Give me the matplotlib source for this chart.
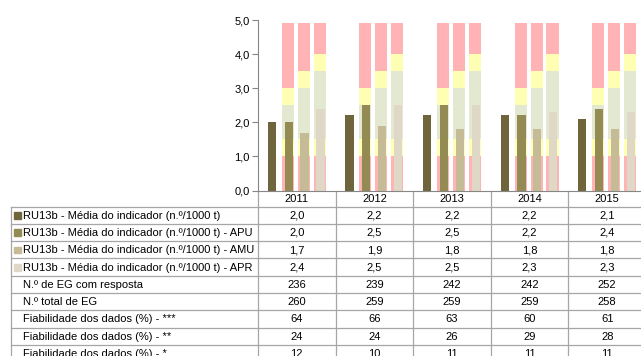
import matplotlib
matplotlib.use('Agg')
import numpy as np
import matplotlib.pyplot as plt
from matplotlib.patches import Rectangle

plt.rcParams['font.family'] = ['Liberation Sans', 'DejaVu Sans']

# dados
anos = ['2011', '2012', '2013', '2014', '2015']
media = [2.0, 2.2, 2.2, 2.2, 2.1]
media_apu = [2.0, 2.5, 2.5, 2.2, 2.4]
media_amu = [1.7, 1.9, 1.8, 1.8, 1.8]
media_apr = [2.4, 2.5, 2.5, 2.3, 2.3]
eg_resposta = [236, 239, 242, 242, 252]
eg_total = [260, 259, 259, 259, 258]
fiab_3 = [64, 66, 63, 60, 61]
fiab_2 = [24, 24, 26, 29, 28]
fiab_1 = [12, 10, 11, 11, 11]

nomes = ['RU13b - Média do indicador (n.º/1000 t)',
         'RU13b - Média do indicador (n.º/1000 t) - APU',
         'RU13b - Média do indicador (n.º/1000 t) - AMU',
         'RU13b - Média do indicador (n.º/1000 t) - APR',
         'N.º de EG com resposta',
         'N.º total de EG',
         'Fiabilidade dos dados (%) - ***',
         'Fiabilidade dos dados (%) - **',
         'Fiabilidade dos dados (%) - *']

# limites das faixas de referência (vermelho/amarelo/verde/amarelo/vermelho)
faixas_apu = [1.0, 1.5, 2.5, 3.0, 4.9]
faixas_amu = [1.0, 1.5, 3.0, 3.5, 4.9]
faixas_apr = [1.0, 1.5, 3.5, 4.0, 4.9]
cores_faixa = ['#ffb3b5', '#ffffb3', '#e3e9d1', '#ffffb3', '#ffb3b5']

cores = ['#6f653d', '#938a54', '#c5bb96', '#dfd8c6']

W, H = 641, 356
fig = plt.figure(figsize=(W / 100, H / 100), dpi=100)

x0, x1 = 258, 646
ytop, ybot = 20, 190.5
ax = fig.add_axes([x0 / W, 1 - ybot / H, (x1 - x0) / W, (ybot - ytop) / H])

x = np.arange(len(anos))
desloc = [-0.32, -0.115, 0.09, 0.295]
lb = 0.155   # largura faixa
lw = 0.105   # largura barra

for k, faixas in zip([1, 2, 3], [faixas_apu, faixas_amu, faixas_apr]):
    base = 0
    for topo, c in zip(faixas, cores_faixa):
        ax.bar(x + desloc[k], topo - base, bottom=base, width=lb, color=c,
               edgecolor='none', zorder=1)
        base = topo

for k, serie in enumerate([media, media_apu, media_amu, media_apr]):
    ax.bar(x + desloc[k] + (0.01 if k else 0), serie, width=lw, color=cores[k],
           edgecolor='none', zorder=2)

ax.set_xlim(-0.5, len(anos) - 0.5)
ax.set_ylim(0, 5)
ax.set_yticks(np.arange(0, 5.01, 1))
ax.set_yticklabels([f'{v:.1f}'.replace('.', ',') for v in np.arange(0, 5.01, 1)],
                   fontsize=8)
ax.set_xticks([])
for s in ['top', 'right']:
    ax.spines[s].set_visible(False)
ax.spines['left'].set_color('#868686')
ax.spines['bottom'].set_color('#868686')
ax.tick_params(axis='y', length=4, color='#868686', pad=2)
ax.patch.set_alpha(0)

# tabela
tax = fig.add_axes([0, 0, 1, 1], zorder=-1)
tax.set_xlim(0, W)
tax.set_ylim(H, 0)
tax.axis('off')

cw = (x1 - x0) / len(anos)
lx = 11
hy = 190.5
y_rows = 206.5
rh = 17.3
linha = '#a6a6a6'
fs = 8

linhas = [media, media_apu, media_amu, media_apr, eg_resposta, eg_total,
          fiab_3, fiab_2, fiab_1]
n = len(linhas)

for i in range(len(anos) + 1):
    tax.plot([x0 + i * cw] * 2, [hy, y_rows + n * rh], color=linha, lw=0.9)
tax.plot([lx, lx], [y_rows, y_rows + n * rh], color=linha, lw=0.9)
for j in range(n + 1):
    tax.plot([lx, x1], [y_rows + j * rh] * 2, color=linha, lw=0.9)

for i, a in enumerate(anos):
    tax.text(x0 + (i + 0.5) * cw, (hy + y_rows) / 2 + 1, a, ha='center',
             va='center', fontsize=fs)

for j, (nome, vals) in enumerate(zip(nomes, linhas)):
    yc = y_rows + (j + 0.5) * rh + 0.5
    tax.text(23, yc, nome, ha='left', va='center', fontsize=fs)
    if j < 4:
        tax.add_patch(Rectangle((14, yc - 3.5), 6.5, 6.5, color=cores[j]))
    for i, v in enumerate(vals):
        txt = f'{v:.1f}'.replace('.', ',') if isinstance(v, float) else str(v)
        tax.text(x0 + (i + 0.5) * cw, yc, txt, ha='center', va='center',
                 fontsize=fs)

fig.savefig('out.png', dpi=100)
